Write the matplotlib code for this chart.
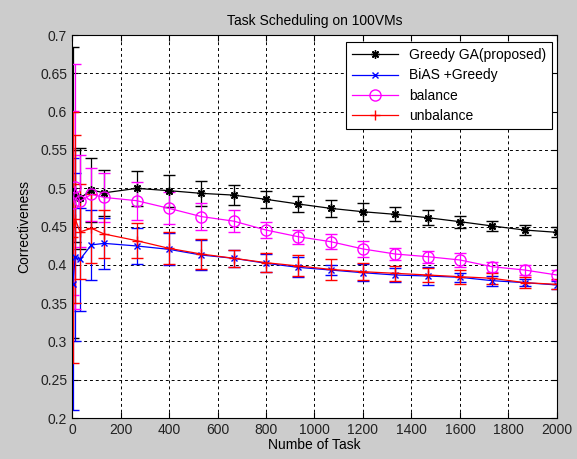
import matplotlib
matplotlib.use("Agg")
import matplotlib.pyplot as plt
from matplotlib.lines import Line2D

tasks = [3, 13, 33, 80, 133, 267, 400, 533, 667, 800, 933, 1067, 1200, 1333, 1467, 1600, 1733, 1867, 2000]

greedy_ga = [0.495, 0.490, 0.487, 0.4977, 0.494, 0.4998, 0.4968, 0.4933, 0.491, 0.4855, 0.4794,
             0.4737, 0.4693, 0.4659, 0.4615, 0.4563, 0.4507, 0.4454, 0.4424]
greedy_ga_err = [0.19, 0.06, 0.066, 0.042, 0.030, 0.023, 0.021, 0.016, 0.013, 0.011, 0.011,
                 0.011, 0.012, 0.009, 0.010, 0.008, 0.007, 0.0065, 0.0065]

bias_greedy = [0.375, 0.410, 0.407, 0.426, 0.428, 0.4246, 0.4202, 0.4128, 0.4085, 0.402, 0.3967,
               0.3932, 0.3897, 0.3867, 0.3854, 0.3837, 0.3793, 0.3767, 0.3737]
bias_greedy_err = [0.165, 0.11, 0.067, 0.046, 0.033, 0.024, 0.021, 0.019, 0.011, 0.0115, 0.013,
                   0.007, 0.011, 0.009, 0.012, 0.006, 0.0065, 0.005, 0.005]

balance = [0.481, 0.502, 0.483, 0.492, 0.488, 0.4837, 0.4737, 0.463, 0.457, 0.4454, 0.4367,
           0.4302, 0.4207, 0.4141, 0.4106, 0.4063, 0.3975, 0.3932, 0.3867]
balance_err = [0.12, 0.16, 0.06, 0.035, 0.032, 0.025, 0.021, 0.018, 0.014, 0.011, 0.009,
               0.010, 0.010, 0.008, 0.008, 0.009, 0.0065, 0.0065, 0.007]

unbalance = [0.436, 0.460, 0.443, 0.4476, 0.4402, 0.4315, 0.4215, 0.4141, 0.4085, 0.4028, 0.3985,
             0.394, 0.391, 0.3889, 0.3867, 0.3845, 0.3824, 0.3767, 0.3745]
unbalance_err = [0.164, 0.11, 0.062, 0.045, 0.031, 0.023, 0.021, 0.020, 0.011, 0.0127, 0.0137,
                 0.0136, 0.0114, 0.0096, 0.0094, 0.009, 0.0074, 0.007, 0.0065]

labels = ["Greedy GA(proposed)", "BiAS +Greedy", "balance", "unbalance"]
xticks = [0, 200, 400, 600, 800, 1000, 1200, 1400, 1600, 1800, 2000]
yticks = [0.2, 0.25, 0.3, 0.35, 0.4, 0.45, 0.5, 0.55, 0.6, 0.65, 0.7]

plt.rcParams['font.family'] = ['Liberation Sans', 'DejaVu Sans']
plt.rcParams['font.size'] = 10

fig = plt.figure(figsize=(5.77, 4.59), dpi=100, facecolor='#cccccc')
ax = fig.add_axes([0.1248, 0.0893, 0.8405, 0.8344])
ax.set_facecolor('white')

series = [
    (greedy_ga, greedy_ga_err, '#000000', (8, 2, 0), 6, 'full'),
    (bias_greedy, bias_greedy_err, '#0000ff', 'x', 4.5, 'full'),
    (balance, balance_err, '#ff00ff', 'o', 8, 'none'),
    (unbalance, unbalance_err, '#ff0000', '+', 7, 'full'),
]
handles = []
for (vals, errs, col, mk, ms, fill), lab in zip(series, labels):
    mfc = 'none' if fill == 'none' else col
    ax.errorbar(tasks, vals, yerr=errs, color=col, ecolor=col, marker=mk, ms=ms,
                mfc=mfc, mec=col, mew=1.0, lw=0.9, elinewidth=0.9, capsize=4,
                capthick=0.9)
    handles.append(Line2D([], [], color=col, marker=mk, ms=ms, mfc=mfc, mec=col,
                          mew=1.0, lw=0.9, label=lab))

ax.set_xlim(0, 2000)
ax.set_ylim(0.2, 0.7)
ax.set_xticks(xticks)
ax.set_yticks(yticks)
ax.set_yticklabels([f"{v:g}" for v in yticks])
ax.grid(True, color='black', linestyle=(0, (3, 3)), linewidth=0.7)
ax.tick_params(direction='in', length=4, top=True, right=True, labelsize=10,
               labelcolor='#222222')
for s in ax.spines.values():
    s.set_linewidth(0.8)

ax.set_title("Task Scheduling on 100VMs", fontsize=10, pad=7)
ax.set_xlabel("Numbe of Task", fontsize=10, labelpad=1)
ax.set_ylabel("Correctiveness", fontsize=10, labelpad=6)

leg = ax.legend(handles=handles, loc='upper right', fontsize=10, frameon=True,
                fancybox=False, edgecolor='black', framealpha=1, handlelength=3.3,
                borderpad=0.45, labelspacing=0.45, borderaxespad=0,
                bbox_to_anchor=(0.99, 0.982))
leg.get_frame().set_linewidth(0.8)

fig.savefig("out.png", dpi=100, facecolor=fig.get_facecolor())
